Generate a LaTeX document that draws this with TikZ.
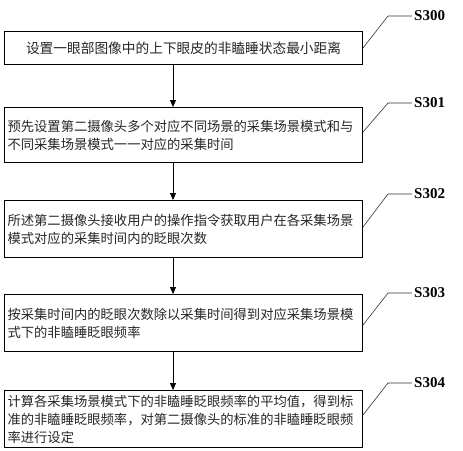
\documentclass[tikz,border=0pt]{standalone}
\usepackage{fontspec}
\setmainfont{Liberation Serif}
\newfontfamily\cjk{Noto Sans CJK SC}
\usetikzlibrary{arrows.meta}
\tikzset{
  stepbox/.style={draw=black, line width=1.1pt, rectangle, anchor=north west,
    minimum width=358pt, inner xsep=3pt, inner ysep=0pt,
    text width=352pt, align=left, font=\cjk\fontsize{13.3}{18}\selectfont, text=black!85},
  flowarrow/.style={line width=0.9pt, -{Triangle[length=7pt,width=6pt]}},
  leader/.style={line width=0.6pt, draw=black!80},
  steplabel/.style={anchor=west, inner sep=2pt, font=\bfseries\fontsize{15}{15}\selectfont}
}
\begin{document}
\begin{tikzpicture}[x=1pt,y=-1pt]
\useasboundingbox (0,0) rectangle (463,450);
\node[stepbox, minimum height=33pt, align=center, font=\cjk\fontsize{13.7}{18}\selectfont] (b1) at (4,31) {设置一眼部图像中的上下眼皮的非瞌睡状态最小距离};
\node[stepbox, minimum height=55pt] (b2) at (4,107) {预先设置第二摄像头多个对应不同场景的采集场景模式和与\\不同采集场景模式一一对应的采集时间};
\node[stepbox, minimum height=57pt] (b3) at (4,200) {所述第二摄像头接收用户的操作指令获取用户在各采集场景\\模式对应的采集时间内的眨眼次数};
\node[stepbox, minimum height=57pt] (b4) at (4,294) {按采集时间内的眨眼次数除以采集时间得到对应采集场景模\\式下的非瞌睡眨眼频率};
\node[stepbox, minimum height=57pt] (b5) at (4,390) {计算各采集场景模式下的非瞌睡眨眼频率的平均值，得到标\\准的非瞌睡眨眼频率，对第二摄像头的标准的非瞌睡眨眼频\\率进行设定};

\draw[flowarrow] (b1.south -| 173,0) -- (b2.north -| 173,0);
\draw[flowarrow] (b2.south -| 173,0) -- (b3.north -| 173,0);
\draw[flowarrow] (b3.south -| 173,0) -- (b4.north -| 173,0);
\draw[flowarrow] (b4.south -| 173,0) -- (b5.north -| 173,0);

\node[steplabel] (l1) at (412,16) {S300};
\node[steplabel] (l2) at (412,103) {S301};
\node[steplabel] (l3) at (412,194) {S302};
\node[steplabel] (l4) at (412,293) {S303};
\node[steplabel] (l5) at (412,383) {S304};

\coordinate (d1) at (363,48);
\coordinate (d2) at (363,132);
\coordinate (d3) at (363,227);
\coordinate (d4) at (363,325);
\coordinate (d5) at (363,415);
\coordinate (k1) at (388,16);
\coordinate (k2) at (388,103);
\coordinate (k3) at (388,194);
\coordinate (k4) at (388,293);
\coordinate (k5) at (388,383);

\draw[leader] (d1) -- (k1) -- (l1.west);
\draw[leader] (d2) -- (k2) -- (l2.west);
\draw[leader] (d3) -- (k3) -- (l3.west);
\draw[leader] (d4) -- (k4) -- (l4.west);
\draw[leader] (d5) -- (k5) -- (l5.west);
\end{tikzpicture}
\end{document}
